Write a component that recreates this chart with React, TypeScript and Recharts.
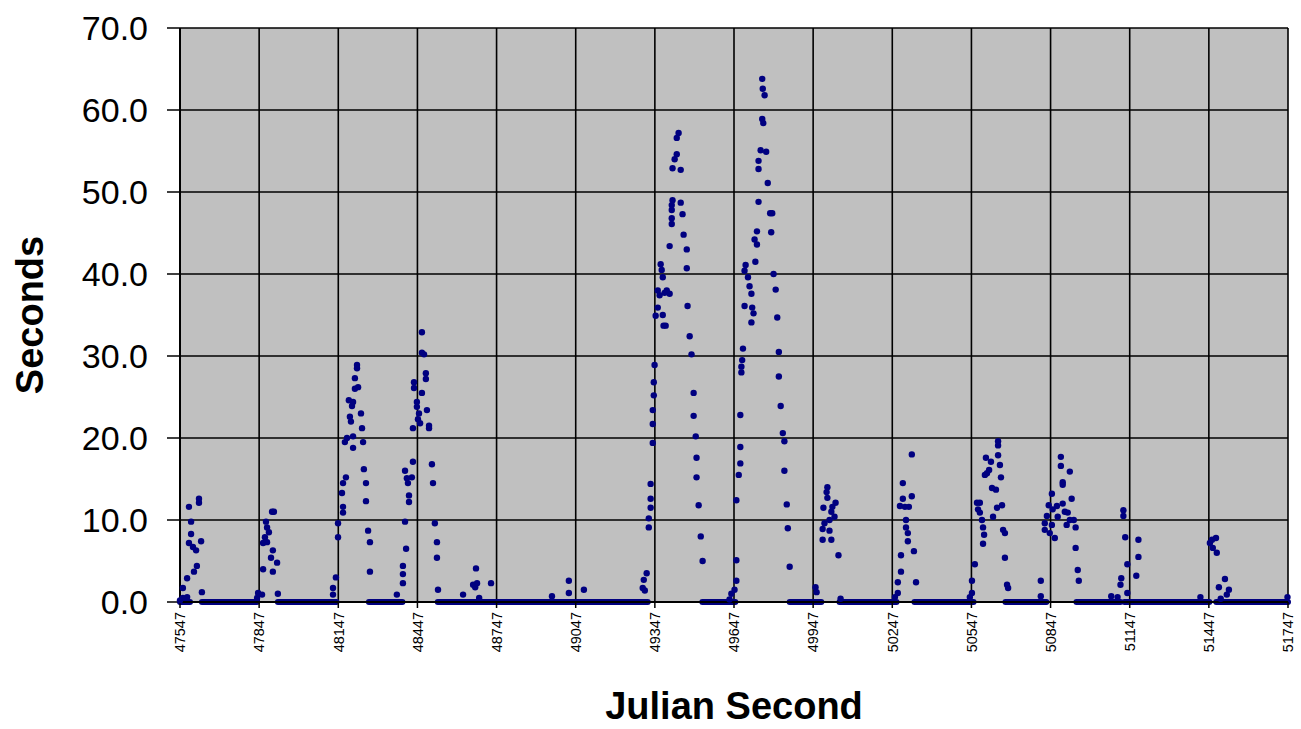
import { ScatterChart, Scatter, XAxis, YAxis, CartesianGrid, ReferenceLine } from 'recharts';

const xTicks = [47547, 47847, 48147, 48447, 48747, 49047, 49347, 49647, 49947, 50247, 50547, 50847, 51147, 51447, 51747];
const yTicks = [0, 10, 20, 30, 40, 50, 60, 70];

// [julian second, seconds]
const burst1 = [
  [47619, 12.6], [47619, 12.1], [47581, 11.6], [47589, 9.8], [47589, 8.3], [47581, 7.2], [47596, 6.7],
  [47608, 6.3], [47627, 7.4], [47611, 4.4], [47600, 3.7], [47574, 2.9], [47558, 1.7], [47574, 0.6],
  [47630, 1.2], [47547, 0.2], [47558, 0.5],
];
const burst2 = [
  [47903, 11.0], [47896, 11.0], [47873, 9.8], [47877, 9.1], [47884, 8.5], [47869, 7.9], [47877, 7.3],
  [47862, 7.2], [47899, 6.3], [47892, 5.4], [47915, 4.8], [47862, 4.0], [47899, 3.7], [47918, 1.0],
  [47843, 1.1], [47858, 0.9], [47839, 0.5],
];
const burst3 = [
  [48218, 28.9], [48218, 28.5], [48210, 27.3], [48222, 26.2], [48210, 26.0], [48187, 24.6], [48203, 24.4],
  [48199, 23.9], [48233, 23.0], [48191, 22.6], [48195, 22.0], [48237, 21.2], [48203, 20.2], [48180, 20.0],
  [48172, 19.5], [48203, 18.8], [48241, 19.5], [48244, 16.2], [48252, 14.5], [48176, 15.2], [48165, 14.5],
  [48161, 13.3], [48165, 11.6], [48165, 10.9], [48146, 9.6], [48252, 12.3], [48260, 8.7], [48267, 7.3],
  [48146, 7.9], [48267, 3.7], [48138, 3.0], [48127, 1.7], [48127, 0.9],
];
const burst4 = [
  [48464, 32.9], [48464, 30.4], [48472, 30.2], [48479, 27.9], [48479, 27.2], [48434, 26.8], [48434, 26.1],
  [48464, 25.5], [48445, 24.4], [48445, 23.8], [48483, 23.4], [48453, 23.0], [48449, 22.3], [48457, 21.8],
  [48491, 21.5], [48491, 21.2], [48430, 21.2], [48430, 17.1], [48502, 16.8], [48400, 16.0], [48426, 15.2],
  [48407, 15.1], [48411, 14.5], [48506, 14.5], [48415, 13.0], [48415, 12.2], [48400, 9.8], [48513, 9.6],
  [48521, 7.3], [48404, 6.5], [48521, 5.4], [48392, 4.4], [48392, 3.4], [48392, 2.3], [48525, 1.5],
  [48369, 0.9],
];
const quiet = [
  [48620, 0.9], [48669, 4.1], [48658, 2.1], [48673, 2.3], [48666, 1.8], [48681, 0.5], [48726, 2.3],
  [48957, 0.7], [49021, 2.6], [49021, 1.1], [49078, 1.5],
];
const burst5 = [
  [49437, 57.2], [49430, 56.6], [49430, 54.6], [49422, 54.0], [49414, 52.9], [49445, 52.7], [49414, 49.0],
  [49445, 48.7], [49411, 48.4], [49411, 47.8], [49452, 47.3], [49411, 46.8], [49411, 46.1], [49456, 44.8],
  [49403, 43.4], [49468, 43.0], [49468, 40.7], [49369, 41.2], [49373, 40.5], [49377, 39.6], [49358, 38.0],
  [49392, 38.0], [49403, 37.6], [49365, 37.4], [49384, 37.7], [49358, 35.9], [49377, 35.0], [49350, 34.9],
  [49380, 33.7], [49388, 33.7], [49471, 36.1], [49479, 32.4], [49486, 30.2], [49346, 28.9], [49343, 26.8],
  [49343, 25.2], [49494, 25.5], [49494, 22.7], [49339, 23.4], [49339, 21.7], [49502, 20.2], [49339, 19.4],
  [49505, 17.6], [49505, 15.2], [49331, 14.4], [49513, 11.8], [49331, 12.6], [49331, 11.5], [49324, 10.2],
  [49324, 9.1], [49521, 8.0], [49528, 5.0], [49316, 3.5], [49305, 2.7], [49301, 1.7], [49309, 1.4],
];
const burst6 = [
  [49754, 63.8], [49756, 62.6], [49763, 61.8], [49754, 58.9], [49758, 58.4], [49748, 55.1], [49769, 54.9],
  [49740, 53.8], [49740, 52.8], [49775, 51.1], [49740, 48.8], [49784, 47.4], [49792, 47.4], [49788, 45.1],
  [49734, 45.2], [49725, 44.2], [49734, 43.6], [49728, 41.5], [49691, 41.1], [49687, 40.4], [49797, 40.0],
  [49700, 39.6], [49706, 38.5], [49713, 37.6], [49805, 38.1], [49687, 36.1], [49716, 35.9], [49721, 35.2],
  [49713, 34.1], [49811, 34.7], [49681, 30.9], [49678, 29.5], [49675, 28.7], [49675, 28.0], [49817, 30.5],
  [49817, 27.5], [49824, 23.9], [49671, 22.8], [49832, 20.6], [49838, 19.6], [49671, 18.9], [49671, 16.9],
  [49838, 16.0], [49665, 15.5], [49847, 11.9], [49656, 12.4], [49851, 9.0], [49858, 4.3], [49656, 5.1],
  [49656, 2.6], [49649, 1.5], [49637, 1.0], [49630, 0.3],
];
const burst7 = [
  [50001, 14.0], [49998, 13.4], [50001, 12.7], [50032, 12.1], [49986, 11.5], [50020, 11.6], [50016, 11.0],
  [50028, 10.4], [50009, 10.0], [49990, 9.6], [49983, 8.9], [50009, 8.7], [49983, 7.6], [50016, 7.6],
  [50043, 5.7], [49956, 1.8], [49960, 1.2], [50051, 0.4],
];
const burst8 = [
  [50321, 18.0], [50287, 14.5], [50321, 12.9], [50287, 12.6], [50276, 11.7], [50295, 11.6], [50310, 11.6],
  [50299, 10.0], [50299, 9.1], [50306, 8.4], [50306, 7.4], [50329, 6.2], [50280, 5.7], [50280, 3.7],
  [50268, 2.4], [50337, 2.4], [50268, 1.1], [50257, 0.6],
];
const burst9 = [
  [50648, 19.6], [50648, 19.1], [50648, 17.9], [50602, 17.6], [50621, 17.1], [50655, 16.7], [50614, 16.1],
  [50606, 15.7], [50598, 15.5], [50659, 15.2], [50625, 13.9], [50640, 13.7], [50568, 12.1], [50579, 12.1],
  [50663, 11.8], [50572, 11.3], [50644, 11.5], [50579, 10.9], [50629, 10.4], [50587, 10.0], [50591, 9.1],
  [50667, 8.8], [50595, 8.2], [50674, 8.4], [50591, 7.1], [50674, 5.4], [50560, 4.6], [50682, 2.1],
  [50686, 1.7], [50549, 2.6], [50549, 1.1], [50541, 0.6],
];
const burst10 = [
  [50886, 17.7], [50886, 16.6], [50920, 15.9], [50893, 14.6], [50893, 14.3], [50852, 13.2], [50927, 12.6],
  [50840, 11.8], [50871, 11.7], [50893, 12.0], [50855, 11.3], [50901, 11.0], [50912, 10.9], [50833, 10.5],
  [50874, 10.4], [50920, 10.0], [50935, 10.0], [50825, 9.6], [50852, 9.4], [50908, 9.4], [50942, 9.1],
  [50825, 8.8], [50844, 8.4], [50863, 7.8], [50942, 6.6], [50950, 3.9], [50954, 2.6], [50810, 2.6],
  [50810, 0.7],
];
const burst11 = [
  [51123, 11.2], [51123, 10.5], [51130, 7.9], [51180, 7.6], [51180, 5.5], [51138, 4.6], [51172, 3.2],
  [51115, 2.9], [51112, 2.1], [51138, 1.1], [51101, 0.6], [51077, 0.7],
];
const burst12 = [
  [51459, 7.6], [51474, 7.8], [51451, 7.2], [51462, 6.6], [51477, 6.0], [51508, 2.8], [51485, 1.8],
  [51523, 1.5], [51515, 0.9], [51492, 0.4], [51415, 0.6], [51745, 0.6],
];

// stretches where the value sits at 0.0 for every sample
const zeroRuns = [
  [47547, 47585], [47630, 47839], [47918, 48140], [48263, 48390], [48524, 49320], [49527, 49652],
  [49858, 49978], [50047, 50263], [50331, 50555], [50676, 50831], [50945, 51112], [51127, 51449],
  [51475, 51747],
];

const points = [
  ...burst1, ...burst2, ...burst3, ...burst4, ...quiet, ...burst5, ...burst6,
  ...burst7, ...burst8, ...burst9, ...burst10, ...burst11, ...burst12,
].map(([t, s]) => ({ t, s }));

const navy = '#000080';
const font = '"Liberation Sans", Arial, sans-serif';

function Dot(props: any) {
  return <circle cx={props.cx} cy={props.cy} r={3.2} fill={navy} />;
}

function JulianTick({ x, y, payload }: any) {
  return (
    <g transform={`translate(${x},${y})`}>
      <text transform="rotate(-90)" textAnchor="end" dy="0.36em" fontSize={14.5} fontFamily={font} fill="#000">
        {payload.value}
      </text>
    </g>
  );
}

function YTitle({ viewBox = { x: 0, y: 28, width: 180, height: 574 } }: any) {
  const cx = 30;
  const cy = viewBox.y + viewBox.height / 2;
  return (
    <text x={cx} y={cy} transform={`rotate(-90, ${cx}, ${cy})`} textAnchor="middle" dominantBaseline="central"
      fontSize={38} fontWeight="bold" fontFamily={font} fill="#000">
      Seconds
    </text>
  );
}

function XTitle({ viewBox = { x: 180, y: 602, width: 1108, height: 127 } }: any) {
  return (
    <text x={viewBox.x + viewBox.width / 2} y={viewBox.y + 117} textAnchor="middle"
      fontSize={38} fontWeight="bold" fontFamily={font} fill="#000">
      Julian Second
    </text>
  );
}

export default function App() {
  return (
    <div style={{ position: 'absolute', left: 0, top: 0, background: '#fff' }}>
      <ScatterChart width={1301} height={729} margin={{ top: 28, right: 13, bottom: 0, left: 0 }}>
        <CartesianGrid stroke="#000" strokeWidth={1.6} fill="#c0c0c0" fillOpacity={1} />
        <XAxis
          type="number"
          dataKey="t"
          domain={[47547, 51747]}
          ticks={xTicks}
          interval={0}
          height={127}
          tick={<JulianTick />}
          tickSize={6}
          tickMargin={4}
          axisLine={{ stroke: '#000', strokeWidth: 2 }}
          tickLine={{ stroke: '#000', strokeWidth: 1.5 }}
          label={<XTitle />}
        />
        <YAxis
          type="number"
          dataKey="s"
          domain={[0, 70]}
          ticks={yTicks}
          interval={0}
          width={180}
          tickFormatter={(v: number) => v.toFixed(1)}
          tick={{ fontSize: 34, fill: '#000', fontFamily: font }}
          tickSize={13}
          tickMargin={19}
          axisLine={{ stroke: '#000', strokeWidth: 2 }}
          tickLine={{ stroke: '#000', strokeWidth: 1.5 }}
          label={<YTitle />}
        />
        {zeroRuns.map(([a, b], i) => (
          <ReferenceLine
            key={i}
            segment={[{ x: a, y: 0 }, { x: b, y: 0 }]}
            stroke={navy}
            strokeWidth={6}
            strokeLinecap="round"
          />
        ))}
        <Scatter data={points} shape={<Dot />} isAnimationActive={false} />
      </ScatterChart>
    </div>
  );
}
